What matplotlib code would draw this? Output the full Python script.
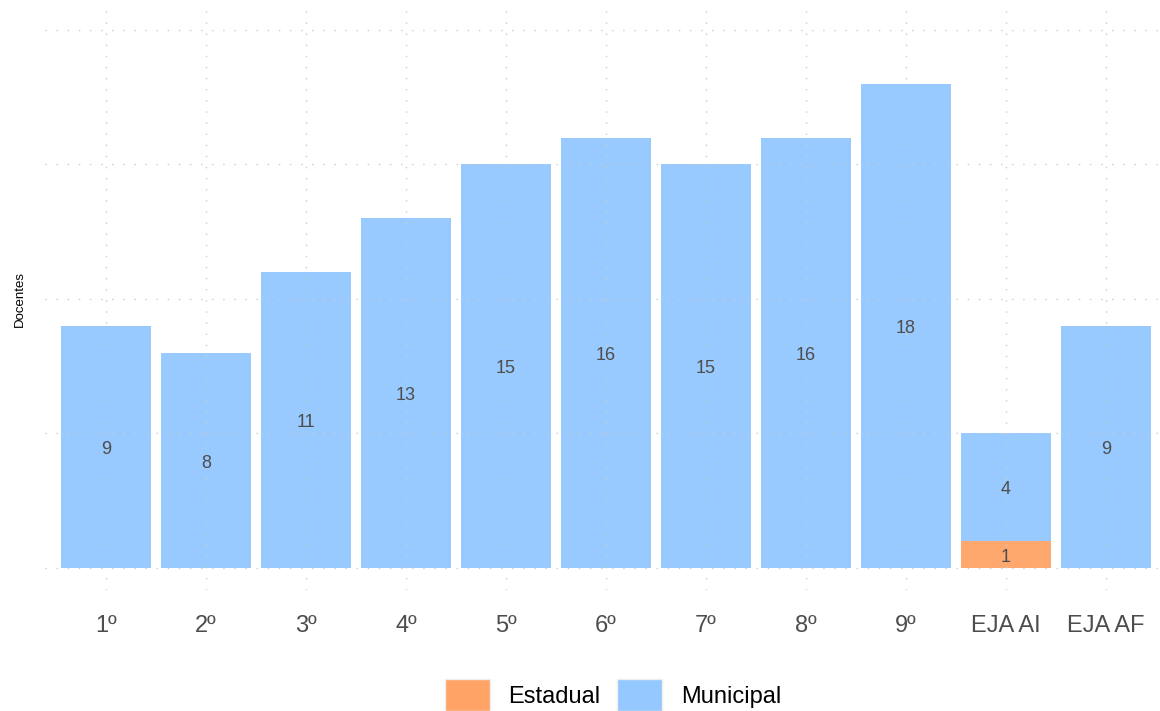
import matplotlib.pyplot as plt
from matplotlib.patches import Patch

plt.rcParams['font.family'] = ['Liberation Sans', 'DejaVu Sans']

categorias = ['1º', '2º', '3º', '4º', '5º', '6º', '7º', '8º', '9º', 'EJA AI', 'EJA AF']
estadual = [0, 0, 0, 0, 0, 0, 0, 0, 0, 1, 0]
municipal = [9, 8, 11, 13, 15, 16, 15, 16, 18, 4, 9]

cor_estadual = '#FFA366'
cor_municipal = '#94C8FF'

fig = plt.figure(figsize=(11.6, 7.11), dpi=100)
ax = fig.add_axes([45 / 1160, 1 - 590 / 711, 1115 / 1160, 580 / 711])

x = list(range(len(categorias)))
ax.bar(x, estadual, width=0.9, color=cor_estadual, alpha=0.95, zorder=1)
ax.bar(x, municipal, width=0.9, bottom=estadual, color=cor_municipal, alpha=0.95, zorder=1)

# rotulos no meio de cada segmento
for i in x:
    if estadual[i] > 0:
        ax.text(i, estadual[i] / 2 - 0.1, str(estadual[i]), ha='center', va='center',
                fontsize=13, color='#4d4d4d', zorder=3)
    if municipal[i] > 0:
        ax.text(i, estadual[i] + municipal[i] / 2 - 0.1, str(municipal[i]), ha='center', va='center',
                fontsize=13, color='#4d4d4d', zorder=3)

ax.set_xlim(-0.61, 10.54)
ax.set_ylim(-0.82, 20.74)
ax.set_yticks([0, 5, 10, 15, 20])
ax.set_yticklabels([])
ax.set_xticks(x)
ax.set_xticklabels(categorias, fontsize=17, color='#4d4d4d')
ax.tick_params(length=0, pad=18)
ax.grid(True, color='#cccccc', linestyle=(0, (1, 7)), linewidth=1, zorder=2)
ax.set_axisbelow(False)
for s in ax.spines.values():
    s.set_visible(False)

fig.text(20 / 1160, 1 - 299 / 711, 'Docentes', rotation=90, ha='center', va='center',
         fontsize=9.5, color='black')

handles = [Patch(facecolor=cor_estadual, edgecolor='#eeeeee', label='Estadual'),
           Patch(facecolor=cor_municipal, edgecolor='#eeeeee', label='Municipal')]
fig.legend(handles=handles, loc='center', bbox_to_anchor=(613 / 1160, 1 - 695 / 711),
           ncol=2, frameon=False, fontsize=17, handlelength=1.9, handleheight=1.7,
           handletextpad=0.8, columnspacing=0.7)

fig.savefig('out.png', dpi=100)
